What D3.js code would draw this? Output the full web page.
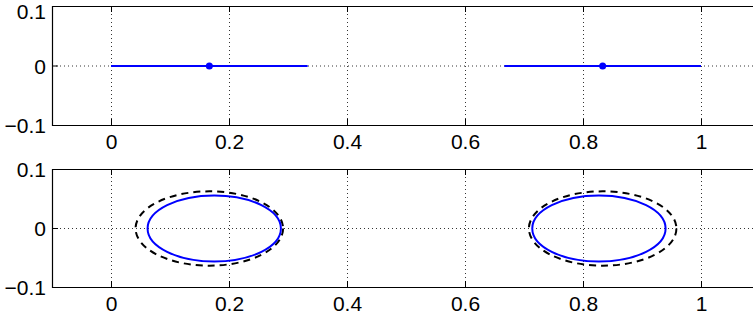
<!DOCTYPE html>
<html>
<head>
<meta charset="utf-8">
<script src="https://cdn.jsdelivr.net/npm/d3@7"></script>
<style>
  html, body { margin: 0; padding: 0; background: #fff; overflow: hidden; }
  text { font-family: "Liberation Sans", Arial, Helvetica, sans-serif; font-size: 21px; fill: #000; }
</style>
</head>
<body>
<svg id="chart" width="753" height="320"></svg>
<script>
// axis ticks
const xTicks = [0, 0.2, 0.4, 0.6, 0.8, 1];
const yTicks = [-0.1, 0, 0.1];

// top panel: segments [x0, x1] with a marker at their middle
const segStart = [0, 2 / 3];
const segEnd = [1 / 3, 1];
const segMark = [1 / 6, 5 / 6];

// bottom panel: ellipses (centre x, radius x, radius y)
const dashCx = [1 / 6, 5 / 6];
const dashRx = [0.125, 0.125];
const dashRy = [0.063, 0.063];
const blueCx = [0.175, 0.827];
const blueRx = [0.113, 0.113];
const blueRy = [0.056, 0.056];

const svg = d3.select('#chart');
const fmt = d => (d < 0 ? '\u2212' + Math.abs(d) : String(d));

const x = d3.scaleLinear().domain([-0.1, 1.1]).range([52, 760]);

function panel(top, bottom) {
  const y = d3.scaleLinear().domain([-0.1, 0.1]).range([bottom, top]);
  const g = svg.append('g');

  // grid
  g.selectAll('line.gx')
    .data(xTicks)
    .join('line')
    .attr('class', 'gx')
    .attr('x1', d => x(d) + 0.5)
    .attr('x2', d => x(d) + 0.5)
    .attr('y1', top)
    .attr('y2', bottom)
    .attr('stroke', '#000')
    .attr('stroke-width', 0.8)
    .attr('stroke-dasharray', '1,3');
  g.append('line')
    .attr('x1', x(-0.1))
    .attr('x2', 753)
    .attr('y1', y(0) + 0.5)
    .attr('y2', y(0) + 0.5)
    .attr('stroke', '#000')
    .attr('stroke-width', 0.8)
    .attr('stroke-dasharray', '1,3');

  // tick marks
  g.selectAll('line.tt')
    .data(xTicks)
    .join('line')
    .attr('x1', d => x(d) + 0.5)
    .attr('x2', d => x(d) + 0.5)
    .attr('y1', top)
    .attr('y2', top + 6)
    .attr('stroke', '#000');
  g.selectAll('line.tb')
    .data(xTicks)
    .join('line')
    .attr('x1', d => x(d) + 0.5)
    .attr('x2', d => x(d) + 0.5)
    .attr('y1', bottom)
    .attr('y2', bottom - 6)
    .attr('stroke', '#000');
  g.selectAll('line.tl')
    .data(yTicks)
    .join('line')
    .attr('x1', x(-0.1))
    .attr('x2', x(-0.1) + 6)
    .attr('y1', d => y(d) + 0.5)
    .attr('y2', d => y(d) + 0.5)
    .attr('stroke', '#000');

  // frame (right edge is outside the window)
  g.append('path')
    .attr('d', `M760,${top + 0.5}H${x(-0.1) + 0.5}V${bottom + 0.5}H760`)
    .attr('fill', 'none')
    .attr('stroke', '#000')
    .attr('stroke-width', 1.2);

  // labels
  g.selectAll('text.xl')
    .data(xTicks)
    .join('text')
    .attr('x', d => x(d) + 0.5)
    .attr('y', bottom + 24)
    .attr('text-anchor', 'middle')
    .text(fmt);
  g.selectAll('text.yl')
    .data(yTicks)
    .join('text')
    .attr('x', x(-0.1) - 6)
    .attr('y', d => Math.max(y(d) + 8, 19))
    .attr('text-anchor', 'end')
    .text(fmt);

  return { g, y };
}

// top panel
const p1 = panel(6, 125);
p1.g.selectAll('line.seg')
  .data(segStart)
  .join('line')
  .attr('x1', d => x(d))
  .attr('x2', (d, i) => x(segEnd[i]))
  .attr('y1', p1.y(0) + 0.5)
  .attr('y2', p1.y(0) + 0.5)
  .attr('stroke', '#0000ff')
  .attr('stroke-width', 2);
p1.g.selectAll('circle.mk')
  .data(segMark)
  .join('circle')
  .attr('cx', d => x(d))
  .attr('cy', p1.y(0) + 0.5)
  .attr('r', 3.5)
  .attr('fill', '#0000ff');

// bottom panel
const p2 = panel(169, 287);
const sy = v => p2.y(0) - p2.y(v);
p2.g.selectAll('ellipse.dash')
  .data(dashCx)
  .join('ellipse')
  .attr('cx', d => x(d))
  .attr('cy', p2.y(0) + 0.5)
  .attr('rx', (d, i) => x(dashRx[i]) - x(0))
  .attr('ry', (d, i) => sy(dashRy[i]))
  .attr('fill', 'none')
  .attr('stroke', '#000')
  .attr('stroke-width', 2)
  .attr('stroke-dasharray', '7,5');
p2.g.selectAll('ellipse.blue')
  .data(blueCx)
  .join('ellipse')
  .attr('cx', d => x(d))
  .attr('cy', p2.y(0) + 0.5)
  .attr('rx', (d, i) => x(blueRx[i]) - x(0))
  .attr('ry', (d, i) => sy(blueRy[i]))
  .attr('fill', 'none')
  .attr('stroke', '#0000ff')
  .attr('stroke-width', 2);
</script>
</body>
</html>
